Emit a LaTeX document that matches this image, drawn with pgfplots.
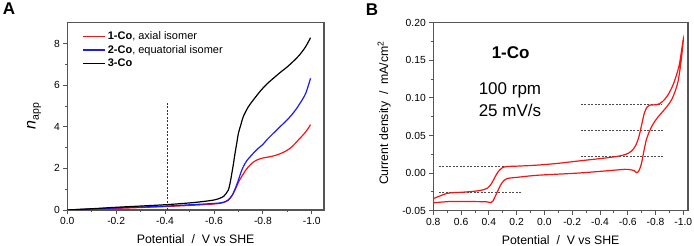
\documentclass[border=0pt]{standalone}
\usepackage{pgfplots}
\pgfplotsset{compat=1.18}
\usepackage{fontspec}
\setmainfont{Liberation Sans}
\definecolor{cvred}{HTML}{FF1010}
\definecolor{cvblue}{HTML}{1A1AFF}
\definecolor{axgray}{HTML}{555555}
\pgfplotsset{
  myaxis/.style={
    scale only axis,
    anchor=south west,
    axis line style={axgray, line width=1.1pt},
    every tick/.style={axgray, line width=0.8pt},
    tick align=outside,
    major tick length=4pt,
    minor tick length=2.5pt,
    xtick pos=bottom, ytick pos=left,
    ticklabel style={font=\fontsize{10.3}{12}\selectfont},
    label style={font=\fontsize{12.3}{14}\selectfont},
    /pgf/number format/assume math mode=true,
    x dir=reverse,
    xlabel={Potential\ \ /\ \ V vs SHE},
    xlabel style={at={(axis description cs:0.5,-0.115)}, anchor=north},
    clip mode=individual,
  }
}
\begin{document}
\begin{tikzpicture}
\useasboundingbox (0,0) rectangle (694pt,246pt);
% ---------------- Panel A ----------------
\begin{axis}[myaxis,
  at={(67.3pt,36pt)}, width=256.7pt, height=187.3pt,
  xmin=-1.05, xmax=0, ymin=0, ymax=9,
  xtick={0,-0.2,-0.4,-0.6,-0.8,-1.0},
  minor xtick={-0.1,-0.3,-0.5,-0.7,-0.9},
  ytick={0,2,4,6,8}, minor ytick={1,3,5,7},
  xticklabel style={/pgf/number format/.cd, fixed, fixed zerofill, precision=1},
  ylabel={{\fontsize{16}{18}\selectfont\itshape n}\raisebox{-0.5ex}{\fontsize{10.5}{12}\selectfont app}},
  ylabel style={at={(axis description cs:-0.13,0.5)}, anchor=center, rotate=0},
  legend style={at={(rel axis cs:0.055,0.97)}, anchor=north west, draw=none, fill=none,
    font=\fontsize{11}{12}\selectfont, row sep=0.2pt, inner sep=1pt},
  legend cell align=left,
  legend image code/.code={\draw[#1] (0pt,0pt) -- (22pt,0pt);},
]
\addplot[cvred, line width=1.2pt, smooth] coordinates {
(0,0) (-0.1,0.04) (-0.2,0.08) (-0.3,0.12) (-0.41,0.17) (-0.5,0.22) (-0.58,0.27)
(-0.625,0.32) (-0.64,0.36) (-0.652,0.42) (-0.662,0.52) (-0.673,0.68) (-0.683,0.9)
(-0.693,1.14) (-0.703,1.4) (-0.714,1.62) (-0.728,1.88) (-0.741,2.08) (-0.758,2.27)
(-0.775,2.4) (-0.8,2.5) (-0.83,2.56) (-0.87,2.7) (-0.911,2.96) (-0.952,3.45)
(-0.975,3.75) (-0.995,4.1)};
\addlegendentry{\textbf{1-Co}, axial isomer}
\addplot[cvblue, line width=1.2pt, smooth] coordinates {
(0,0) (-0.1,0.05) (-0.2,0.10) (-0.3,0.14) (-0.41,0.19) (-0.5,0.25) (-0.58,0.30)
(-0.625,0.34) (-0.645,0.40) (-0.659,0.48) (-0.668,0.6) (-0.679,0.80) (-0.69,1.12)
(-0.70,1.44) (-0.71,1.8) (-0.72,2.08) (-0.733,2.35) (-0.748,2.56) (-0.775,2.9)
(-0.80,3.15) (-0.816,3.37) (-0.857,3.85) (-0.905,4.4) (-0.93,4.75) (-0.952,5.13)
(-0.975,5.6) (-0.995,6.33)};
\addlegendentry{\textbf{2-Co}, equatorial isomer}
\addplot[black, line width=1.2pt, smooth] coordinates {
(0,0) (-0.1,0.06) (-0.2,0.13) (-0.3,0.19) (-0.41,0.26) (-0.5,0.34) (-0.55,0.40)
(-0.6,0.48) (-0.625,0.57) (-0.64,0.66) (-0.65,0.8) (-0.659,0.96) (-0.666,1.3)
(-0.673,1.76) (-0.68,2.25) (-0.686,2.72) (-0.693,3.2) (-0.70,3.69) (-0.71,4.1)
(-0.72,4.49) (-0.74,4.95) (-0.761,5.29) (-0.79,5.72) (-0.816,6.05) (-0.845,6.35)
(-0.87,6.6) (-0.9,6.88) (-0.925,7.15) (-0.95,7.45) (-0.975,7.85) (-0.995,8.28)};
\addlegendentry{\textbf{3-Co}}
\addplot[black!80, line width=0.7pt, dash pattern=on 2pt off 1.5pt, forget plot] coordinates {(-0.41,0) (-0.41,5.15)};
\node[font=\fontsize{17}{18}\selectfont\bfseries] at (rel axis cs:-0.227,1.076) {A};
\end{axis}
% ---------------- Panel B ----------------
\begin{axis}[myaxis,
  at={(433.3pt,35.3pt)}, width=254.7pt, height=188pt,
  xmin=-1.034, xmax=0.8, ymin=-0.05, ymax=0.20,
  xtick={0.8,0.6,0.4,0.2,0,-0.2,-0.4,-0.6,-0.8,-1.0},
  minor xtick={0.7,0.5,0.3,0.1,-0.1,-0.3,-0.5,-0.7,-0.9},
  ytick={-0.05,0,0.05,0.10,0.15,0.20},
  minor ytick={-0.025,0.025,0.075,0.125,0.175},
  xticklabel style={/pgf/number format/.cd, fixed, fixed zerofill, precision=1},
  yticklabel style={/pgf/number format/.cd, fixed, fixed zerofill, precision=2},
  scaled y ticks=false,
  ylabel={Current density\ \ /\ \ mA/cm\textsuperscript{2}},
  ylabel style={at={(axis description cs:-0.193,0.52)}, anchor=center},
]
\addplot[black!70, line width=0.7pt, dash pattern=on 2pt off 1.5pt] coordinates {(0.76,0.0094) (0.195,0.0094)};
\addplot[black!70, line width=0.7pt, dash pattern=on 2pt off 1.5pt] coordinates {(0.76,-0.025) (0.159,-0.025)};
\addplot[black!70, line width=0.7pt, dash pattern=on 2pt off 1.5pt] coordinates {(-0.261,0.091) (-0.85,0.091)};
\addplot[black!70, line width=0.7pt, dash pattern=on 2pt off 1.5pt] coordinates {(-0.261,0.057) (-0.86,0.057)};
\addplot[black!70, line width=0.7pt, dash pattern=on 2pt off 1.5pt] coordinates {(-0.261,0.0223) (-0.855,0.0223)};
\addplot[cvred, line width=1.2pt, smooth, tension=0.5] coordinates {
(0.80,-0.034) (0.70,-0.027) (0.60,-0.0255) (0.536,-0.0247) (0.46,-0.023) (0.41,-0.020)
(0.38,-0.0136) (0.355,-0.005) (0.332,0.002) (0.30,0.0075) (0.26,0.0088) (0.176,0.0094)
(0.044,0.0107) (-0.10,0.013) (-0.24,0.016) (-0.48,0.021) (-0.58,0.0245) (-0.625,0.029)
(-0.655,0.036) (-0.68,0.048) (-0.70,0.064) (-0.72,0.080) (-0.74,0.088) (-0.76,0.0905)
(-0.81,0.091) (-0.85,0.095) (-0.89,0.104) (-0.93,0.119) (-0.97,0.143) (-1.0,0.178)
(-0.985,0.150) (-0.96,0.120) (-0.92,0.099) (-0.88,0.088) (-0.82,0.075) (-0.785,0.066)
(-0.76,0.057) (-0.735,0.045) (-0.715,0.028) (-0.698,0.012) (-0.68,0.003) (-0.664,0.0005)
(-0.648,0.003) (-0.62,0.0045) (-0.58,0.005) (-0.48,0.0035) (-0.24,0.0) (0.044,-0.0028)
(0.19,-0.0055) (0.272,-0.0075) (0.308,-0.0136) (0.344,-0.027) (0.37,-0.037) (0.385,-0.0394)
(0.416,-0.0382) (0.55,-0.0378) (0.68,-0.0378) (0.8,-0.0395)};
\node[font=\fontsize{17}{18}\selectfont\bfseries] at (axis cs:0.243,0.1597) {1-Co};
\node[font=\fontsize{17}{18}\selectfont] at (axis cs:0.248,0.1105) {100 rpm};
\node[font=\fontsize{17}{18}\selectfont] at (axis cs:0.248,0.0834) {25 mV/s};
\node[font=\fontsize{17}{18}\selectfont\bfseries] at (rel axis cs:-0.241,1.070) {B};
\end{axis}
\end{tikzpicture}
\end{document}
